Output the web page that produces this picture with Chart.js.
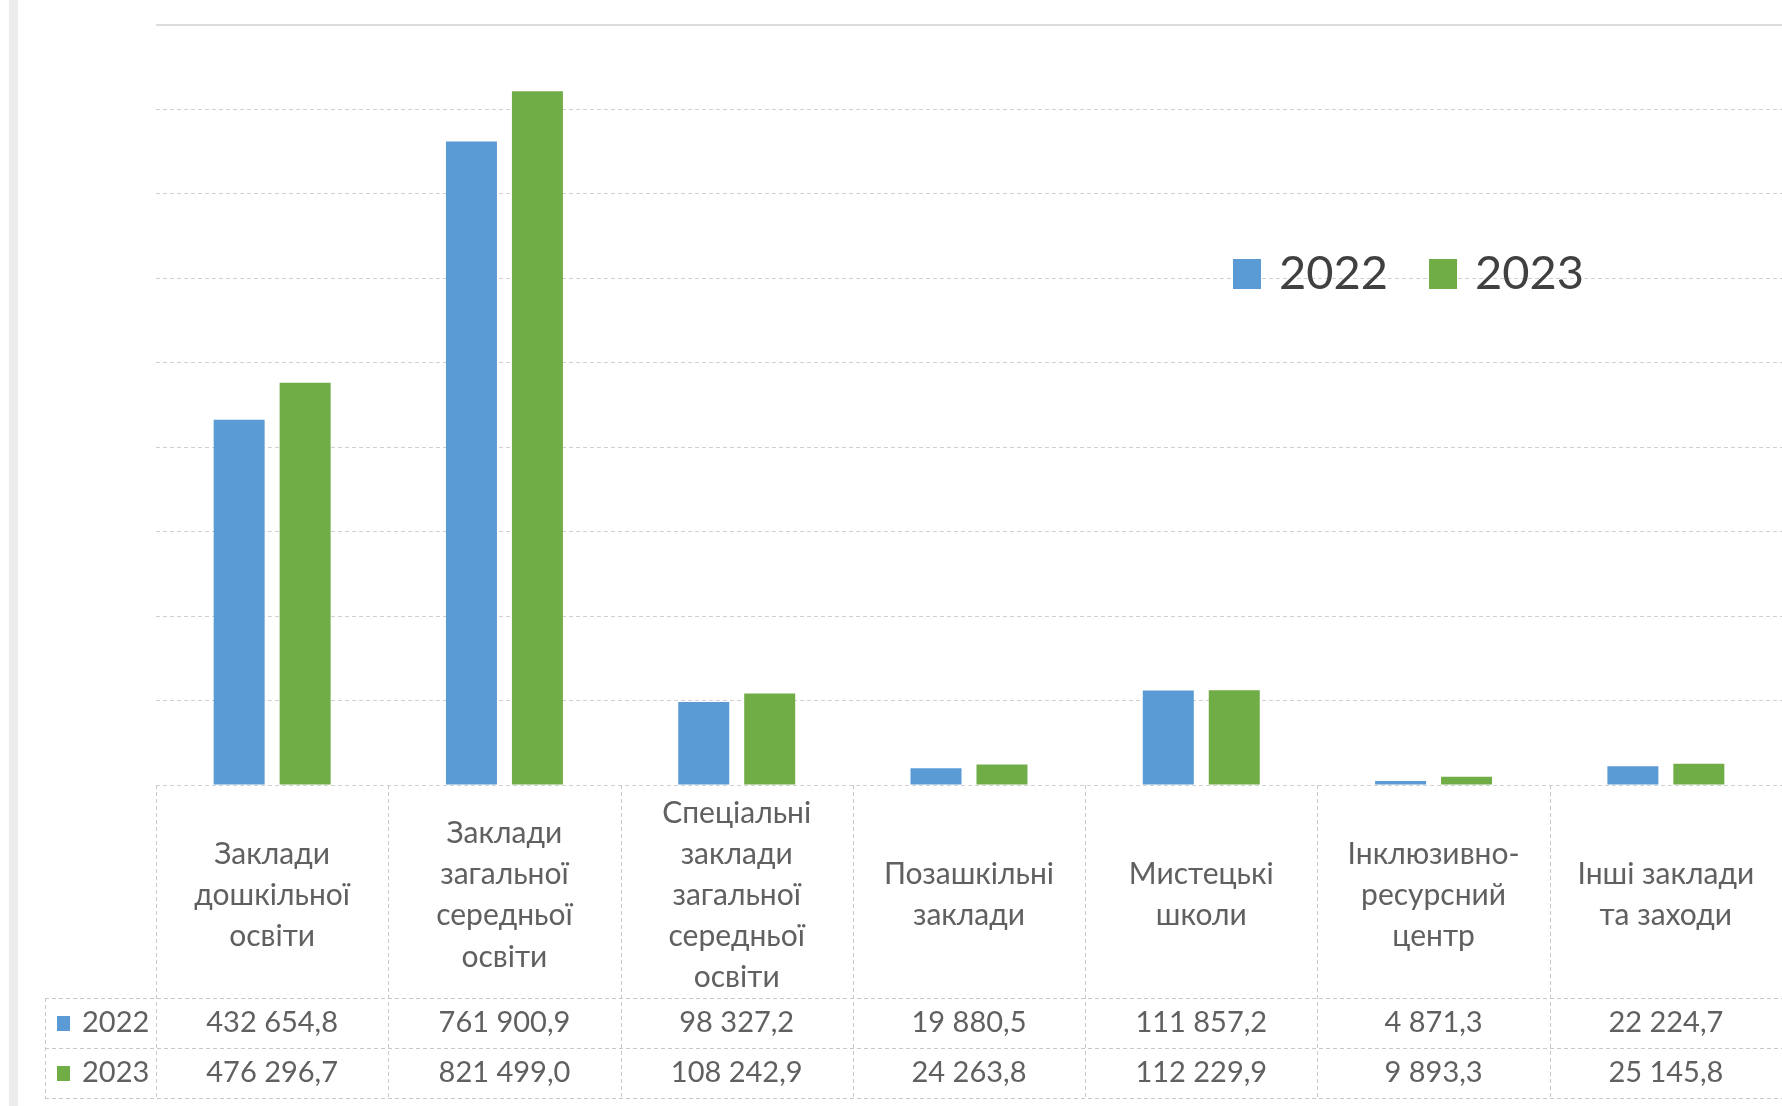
<!DOCTYPE html>
<html>
<head>
<meta charset="utf-8">
<script src="https://cdn.jsdelivr.net/npm/chart.js@4.4.1/dist/chart.umd.min.js"></script>
<style>
  html, body { margin: 0; padding: 0; background: #fff; }
  #wrap { position: relative; width: 1782px; height: 1106px; overflow: hidden; }
  #strip { position: absolute; left: 9px; top: 0; width: 9px; height: 1106px; background: #ececec; }
</style>
</head>
<body>
<div id="wrap">
  <div id="strip"></div>
  <canvas id="budgetChart"></canvas>
</div>
<script>
    // Categories (x axis) and values by year
    const categories = [
        ['Заклади', 'дошкільної', 'освіти'],
        ['Заклади', 'загальної', 'середньої', 'освіти'],
        ['Спеціальні', 'заклади', 'загальної', 'середньої', 'освіти'],
        ['Позашкільні', 'заклади'],
        ['Мистецькі', 'школи'],
        ['Інклюзивно-', 'ресурсний', 'центр'],
        ['Інші заклади', 'та заходи']
    ];
    const years = ['2022', '2023'];
    const values2022 = [432654.8, 761900.9, 98327.2, 19880.5, 111857.2, 4871.3, 22224.7];
    const values2023 = [476296.7, 821499.0, 108242.9, 24263.8, 112229.9, 9893.3, 25145.8];
    const colors = ['#5B9BD5', '#70AD47'];

    const FONT = 'Lato, "Open Sans", sans-serif';
    const textColor = '#606060';
    const lineColor = '#c8c8c8';

    // "432 654,8" style
    const fmt = v => {
        const [int, dec] = v.toFixed(1).split('.');
        return int.replace(/\B(?=(\d{3})+(?!\d))/g, ' ') + ',' + dec;
    };

    // Data table under the axis + legend inside the plot
    const tablePlugin = {
        id: 'dataTable',
        afterDraw(chart) {
            const { ctx, chartArea, scales: { x } } = chart;
            const n = categories.length;
            const bottomAxis = chartArea.bottom;
            const rowH = 50;
            const row1 = 998, row2 = row1 + rowH, row3 = row2 + rowH;
            const tableLeft = 45;

            ctx.save();
            ctx.strokeStyle = lineColor;
            ctx.lineWidth = 1;
            ctx.setLineDash([4, 3]);

            // vertical column lines
            for (let i = 0; i <= n; i++) {
                const px = Math.round(x.getPixelForValue(i - 0.5)) + 0.5;
                ctx.beginPath();
                ctx.moveTo(px, bottomAxis);
                ctx.lineTo(px, row3);
                ctx.stroke();
            }
            // left border of legend column
            ctx.beginPath();
            ctx.moveTo(tableLeft + 0.5, row1);
            ctx.lineTo(tableLeft + 0.5, row3);
            ctx.stroke();
            // horizontal rows
            [row1, row2, row3].forEach(y => {
                ctx.beginPath();
                ctx.moveTo(tableLeft, y + 0.5);
                ctx.lineTo(chart.width, y + 0.5);
                ctx.stroke();
            });

            // solid top line
            ctx.setLineDash([]);
            ctx.strokeStyle = '#dcdcdc';
            ctx.lineWidth = 2;
            ctx.beginPath();
            ctx.moveTo(chartArea.left, chartArea.top);
            ctx.lineTo(chartArea.right, chartArea.top);
            ctx.stroke();

            // values
            ctx.font = '29px ' + FONT;
            ctx.fillStyle = textColor;
            ctx.textBaseline = 'middle';
            const rows = [values2022, values2023];
            rows.forEach((vals, r) => {
                const cy = row1 + rowH * r + rowH / 2;
                ctx.textAlign = 'center';
                vals.forEach((v, i) => {
                    ctx.fillText(fmt(v), x.getPixelForValue(i), cy);
                });
                // legend key in the table
                ctx.fillStyle = colors[r];
                ctx.fillRect(57, cy - 7, 13, 15);
                ctx.fillStyle = textColor;
                ctx.textAlign = 'left';
                ctx.fillText(years[r], 82, cy);
            });

            // legend inside plot
            ctx.font = '47px ' + FONT;
            ctx.textAlign = 'left';
            ctx.textBaseline = 'middle';
            let lx = 1233;
            const ly = 274;
            chart.data.datasets.forEach(ds => {
                ctx.fillStyle = ds.backgroundColor;
                ctx.fillRect(lx, ly - 15, 28, 30);
                lx += 28 + 18;
                ctx.fillStyle = '#404040';
                ctx.fillText(ds.label, lx, ly);
                lx += ctx.measureText(ds.label).width + 41;
            });
            ctx.restore();
        }
    };

    const ctx = document.getElementById('budgetChart').getContext('2d');

    new Chart(ctx, {
        type: 'bar',
        data: {
            labels: categories,
            datasets: [
                { label: years[0], data: values2022, backgroundColor: colors[0] },
                { label: years[1], data: values2023, backgroundColor: colors[1] }
            ]
        },
        options: {
            responsive: true,
            maintainAspectRatio: false,
            animation: false,
            categoryPercentage: 0.568,
            barPercentage: 0.773,
            layout: { padding: { left: 156, top: 25, right: 0, bottom: 0 } },
            plugins: {
                legend: { display: false },
                tooltip: { enabled: false }
            },
            scales: {
                x: {
                    grid: { display: false },
                    border: { display: false },
                    ticks: {
                        autoSkip: false,
                        maxRotation: 0,
                        crossAlign: 'center',
                        padding: 20,
                        color: textColor,
                        font: { family: FONT, size: 30, lineHeight: 1.37 }
                    },
                    afterFit: scale => { scale.height = 321; }
                },
                y: {
                    min: 0,
                    max: 900000,
                    ticks: { display: false, stepSize: 100000 },
                    grid: { color: '#d0d0d0', lineWidth: 1, borderDash: [4, 3], drawTicks: false },
                    border: { display: false, dash: [4, 3] },
                    afterFit: scale => { scale.width = 0; }
                }
            }
        },
        plugins: [tablePlugin]
    });
</script>
</body>
</html>
